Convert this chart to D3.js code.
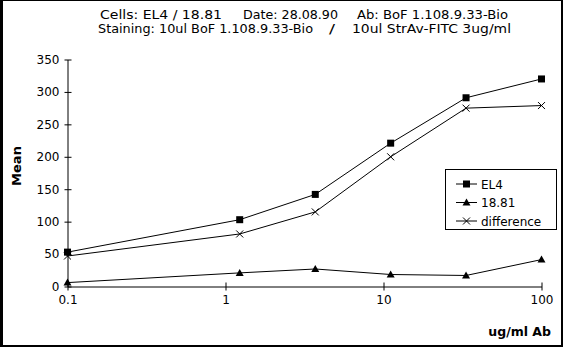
<!DOCTYPE html>
<html><head><meta charset="utf-8">
<script src="https://cdn.jsdelivr.net/npm/d3@7/dist/d3.min.js"></script>
<style>body{margin:0;background:#fff}svg{display:block}text{font-family:"DejaVu Sans",sans-serif;fill:#000}</style>
</head><body>
<script>
const doses = [0.1, 1.23, 3.7, 11.1, 33.3, 100];
const el4 = [53, 103, 142, 221, 291, 320];
const s1881 = [6, 21, 27, 18.5, 17, 41.5];
const difference = [47, 81, 115, 200, 275, 279];
const yTicks = [0, 50, 100, 150, 200, 250, 300, 350];
const xTicks = [0.1, 1, 10, 100];
const xTickLabels = ["0.1", "1", "10", "100"];
const seriesNames = ["EL4", "18.81", "difference"];
const titleLine1 = ["Cells: EL4 / 18.81", "Date: 28.08.90", "Ab: BoF 1.108.9.33-Bio"];
const titleLine2 = ["Staining: 10ul BoF 1.108.9.33-Bio", "/", "10ul StrAv-FITC 3ug/ml"];

const W = 563, H = 347;
const svg = d3.select("body").append("svg").attr("width", W).attr("height", H);
// frame
svg.append("rect").attr("x",0).attr("y",0).attr("width",W).attr("height",H).attr("fill","#000");
svg.append("rect").attr("x",3).attr("y",1).attr("width",558).attr("height",344).attr("fill","#fff");

const x = d3.scaleLog().domain([0.1, 100]).range([67.5, 541.5]);
const y = d3.scaleLinear().domain([0, 350]).range([286.5, 59.5]);

// title
const t1x = [[100,122],[243,95],[357,151]];
titleLine1.forEach((s,i)=>svg.append("text").attr("x",t1x[i][0]).attr("y",19).attr("font-size",11.5)
  .attr("textLength",t1x[i][1]).attr("lengthAdjust","spacingAndGlyphs").text(s));
const t2x = [[98,215],[329,6],[352,159]];
titleLine2.forEach((s,i)=>svg.append("text").attr("x",t2x[i][0]).attr("y",33).attr("font-size",11.5)
  .attr("textLength",t2x[i][1]).attr("lengthAdjust","spacingAndGlyphs").text(s));

// y axis
const ya = d3.axisLeft(y).tickValues(yTicks).tickSize(0).tickPadding(8);
const gy = svg.append("g").attr("transform","translate(67.5,0)").call(ya);
gy.select(".domain").attr("stroke","#000");
gy.selectAll(".tick").append("line").attr("x1",-3).attr("x2",4).attr("stroke","#000");
gy.selectAll("text").attr("font-size",12).attr("font-family","DejaVu Sans").attr("fill","#000");
// x axis
const xa = d3.axisBottom(x).tickValues(xTicks).tickFormat((d,i)=>xTickLabels[i]).tickSize(0).tickPadding(9);
const gx = svg.append("g").attr("transform","translate(0,286.5)").call(xa);
gx.select(".domain").attr("stroke","#000");
gx.selectAll(".tick").append("line").attr("y1",-4).attr("y2",4).attr("stroke","#000");
gx.selectAll("text").attr("font-size",12).attr("font-family","DejaVu Sans").attr("fill","#000");

// axis titles
svg.append("text").attr("transform","translate(21,166) rotate(-90)").attr("text-anchor","middle")
  .attr("font-size",13).attr("font-weight","bold").text("Mean");
svg.append("text").attr("x",551).attr("y",336).attr("text-anchor","end")
  .attr("font-size",12.5).attr("font-weight","bold").text("ug/ml Ab");

const series = [el4, s1881, difference];
const line = d3.line().x((d,i)=>x(doses[i])).y(d=>y(d));
function marker(g, type, cx, cy){
  if(type===0) g.append("rect").attr("x",cx-3.5).attr("y",cy-3.5).attr("width",7).attr("height",7).attr("fill","#000");
  else if(type===1) g.append("path").attr("d",`M${cx-4},${cy+3}L${cx+4},${cy+3}L${cx},${cy-4}Z`).attr("fill","#000");
  else g.append("path").attr("d",`M${cx-3.5},${cy-3.5}L${cx+3.5},${cy+3.5}M${cx-3.5},${cy+3.5}L${cx+3.5},${cy-3.5}`).attr("stroke","#000").attr("fill","none");
}
series.forEach((vals,k)=>{
  svg.append("path").attr("d",line(vals)).attr("fill","none").attr("stroke","#000").attr("stroke-width",1);
  const g = svg.append("g");
  vals.forEach((v,i)=>marker(g,k,x(doses[i]),y(v)));
});

// legend
svg.append("rect").attr("x",445.5).attr("y",169.5).attr("width",111).attr("height",60).attr("fill","#fff").attr("stroke","#000");
const ly = [184, 202.5, 221];
seriesNames.forEach((n,k)=>{
  svg.append("line").attr("x1",456).attr("x2",477).attr("y1",ly[k]).attr("y2",ly[k]).attr("stroke","#000");
  marker(svg,k,466.5,ly[k]);
  svg.append("text").attr("x",481).attr("y",ly[k]+4.5).attr("font-size",12).text(n);
});
</script>
</body></html>
